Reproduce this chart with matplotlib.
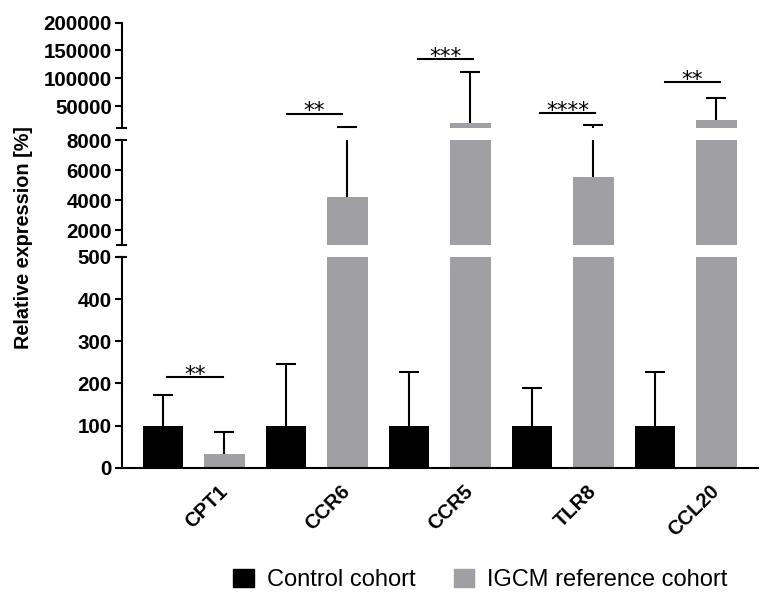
import numpy as np
import matplotlib.pyplot as plt
from matplotlib.patches import Patch

plt.rcParams['font.family'] = ['Liberation Sans', 'DejaVu Sans']

# data
genes = ['CPT1', 'CCR6', 'CCR5', 'TLR8', 'CCL20']
control_mean = [100, 100, 100, 100, 100]
control_err = [73, 145, 128, 90, 126]        # upper error only
igcm_mean = [33, 4220, 19000, 5550, 24300]
igcm_err = [51, 8780, 92000, 9450, 40100]    # upper error only
stars = ['**', '**', '***', '****', '**']
sig_y = [215, 36100, 134000, 36800, 92700]

gray = '#a0a0a4'
x_ctrl = np.arange(len(genes)) * 2
x_igcm = x_ctrl + 1
# start/end offset of each significance line (relative to bar centres)
sig_off = [(0.07, -0.02), (0.015, -0.085), (0.145, 0.05), (0.13, 0.03), (0.166, 0.06)]

fig = plt.figure(figsize=(7.7, 6.09), dpi=100)
L, W = 0.158, 0.8268
segs = [((11000, 200000), [50000, 100000, 150000, 200000], 0.7903, 0.1724),
        ((1000, 8000), [2000, 4000, 6000, 8000], 0.5977, 0.1724),
        ((0, 500), [0, 100, 200, 300, 400, 500], 0.232, 0.346)]


def upper_err(ax, x, mean, err):
    top = np.array(mean) + np.array(err)
    ax.vlines(x, mean, top, color='black', lw=1.5)
    ax.plot(x, top, ls='none', marker='_', ms=15, mew=1.5, color='black')


axes = []
d = 4.5 / (W * 770)
for k, (ylim, ticks, b, h) in enumerate(segs):
    ax = fig.add_axes([L, b, W, h])
    ax.bar(x_ctrl, control_mean, width=0.66, color='black')
    ax.bar(x_igcm, igcm_mean, width=0.66, color=gray)
    upper_err(ax, x_ctrl, control_mean, control_err)
    upper_err(ax, x_igcm, igcm_mean, igcm_err)
    ax.set_xlim(-0.672, 9.683)
    ax.set_ylim(*ylim)
    ax.set_yticks(ticks, [str(t) for t in ticks], fontsize=14.8, fontweight='bold')
    ax.tick_params(axis='y', length=5, width=1.5, pad=2)
    for s in ['top', 'right']:
        ax.spines[s].set_visible(False)
    ax.spines['left'].set_linewidth(1.5)
    # break marks
    if k > 0:
        ax.plot([-d, d], [1, 1], transform=ax.transAxes, color='black', lw=1.5, clip_on=False)
    if k < 2:
        ax.plot([-d, d], [0, 0], transform=ax.transAxes, color='black', lw=1.5, clip_on=False)
        ax.spines['bottom'].set_visible(False)
        ax.set_xticks([])
    else:
        ax.spines['bottom'].set_linewidth(1.5)
        ax.set_xticks(x_igcm, genes, rotation=45, ha='right', va='center',
                      rotation_mode='anchor', fontsize=14.5, fontweight='bold')
        ax.tick_params(axis='x', length=0, pad=15)
    axes.append(ax)

# significance lines
for i in range(len(genes)):
    for ax, (ylim, _, _, _) in zip(axes, segs):
        if ylim[0] <= sig_y[i] <= ylim[1]:
            x0 = x_ctrl[i] + sig_off[i][0]
            x1 = x_igcm[i] + sig_off[i][1]
            ax.plot([x0, x1], [sig_y[i], sig_y[i]], color='black', lw=1.5)
            ax.annotate(stars[i], ((x0 + x1) / 2, sig_y[i]), xytext=(0, -2.5),
                        textcoords='offset points', ha='center', va='baseline',
                        fontsize=15.5, family='DejaVu Sans')

fig.text(24 / 770, 1 - 237.5 / 609, 'Relative expression [%]', rotation=90,
         ha='center', va='center', fontsize=14.3, fontweight='bold')

fig.legend(handles=[Patch(color='black'), Patch(color=gray)],
           labels=['Control cohort', 'IGCM reference cohort'],
           loc='center', bbox_to_anchor=(0.624, 0.0476), ncol=2, frameon=False,
           fontsize=17, handlelength=0.85, handleheight=0.78,
           handletextpad=0.55, columnspacing=1.65)

fig.savefig('out.png', dpi=100)
